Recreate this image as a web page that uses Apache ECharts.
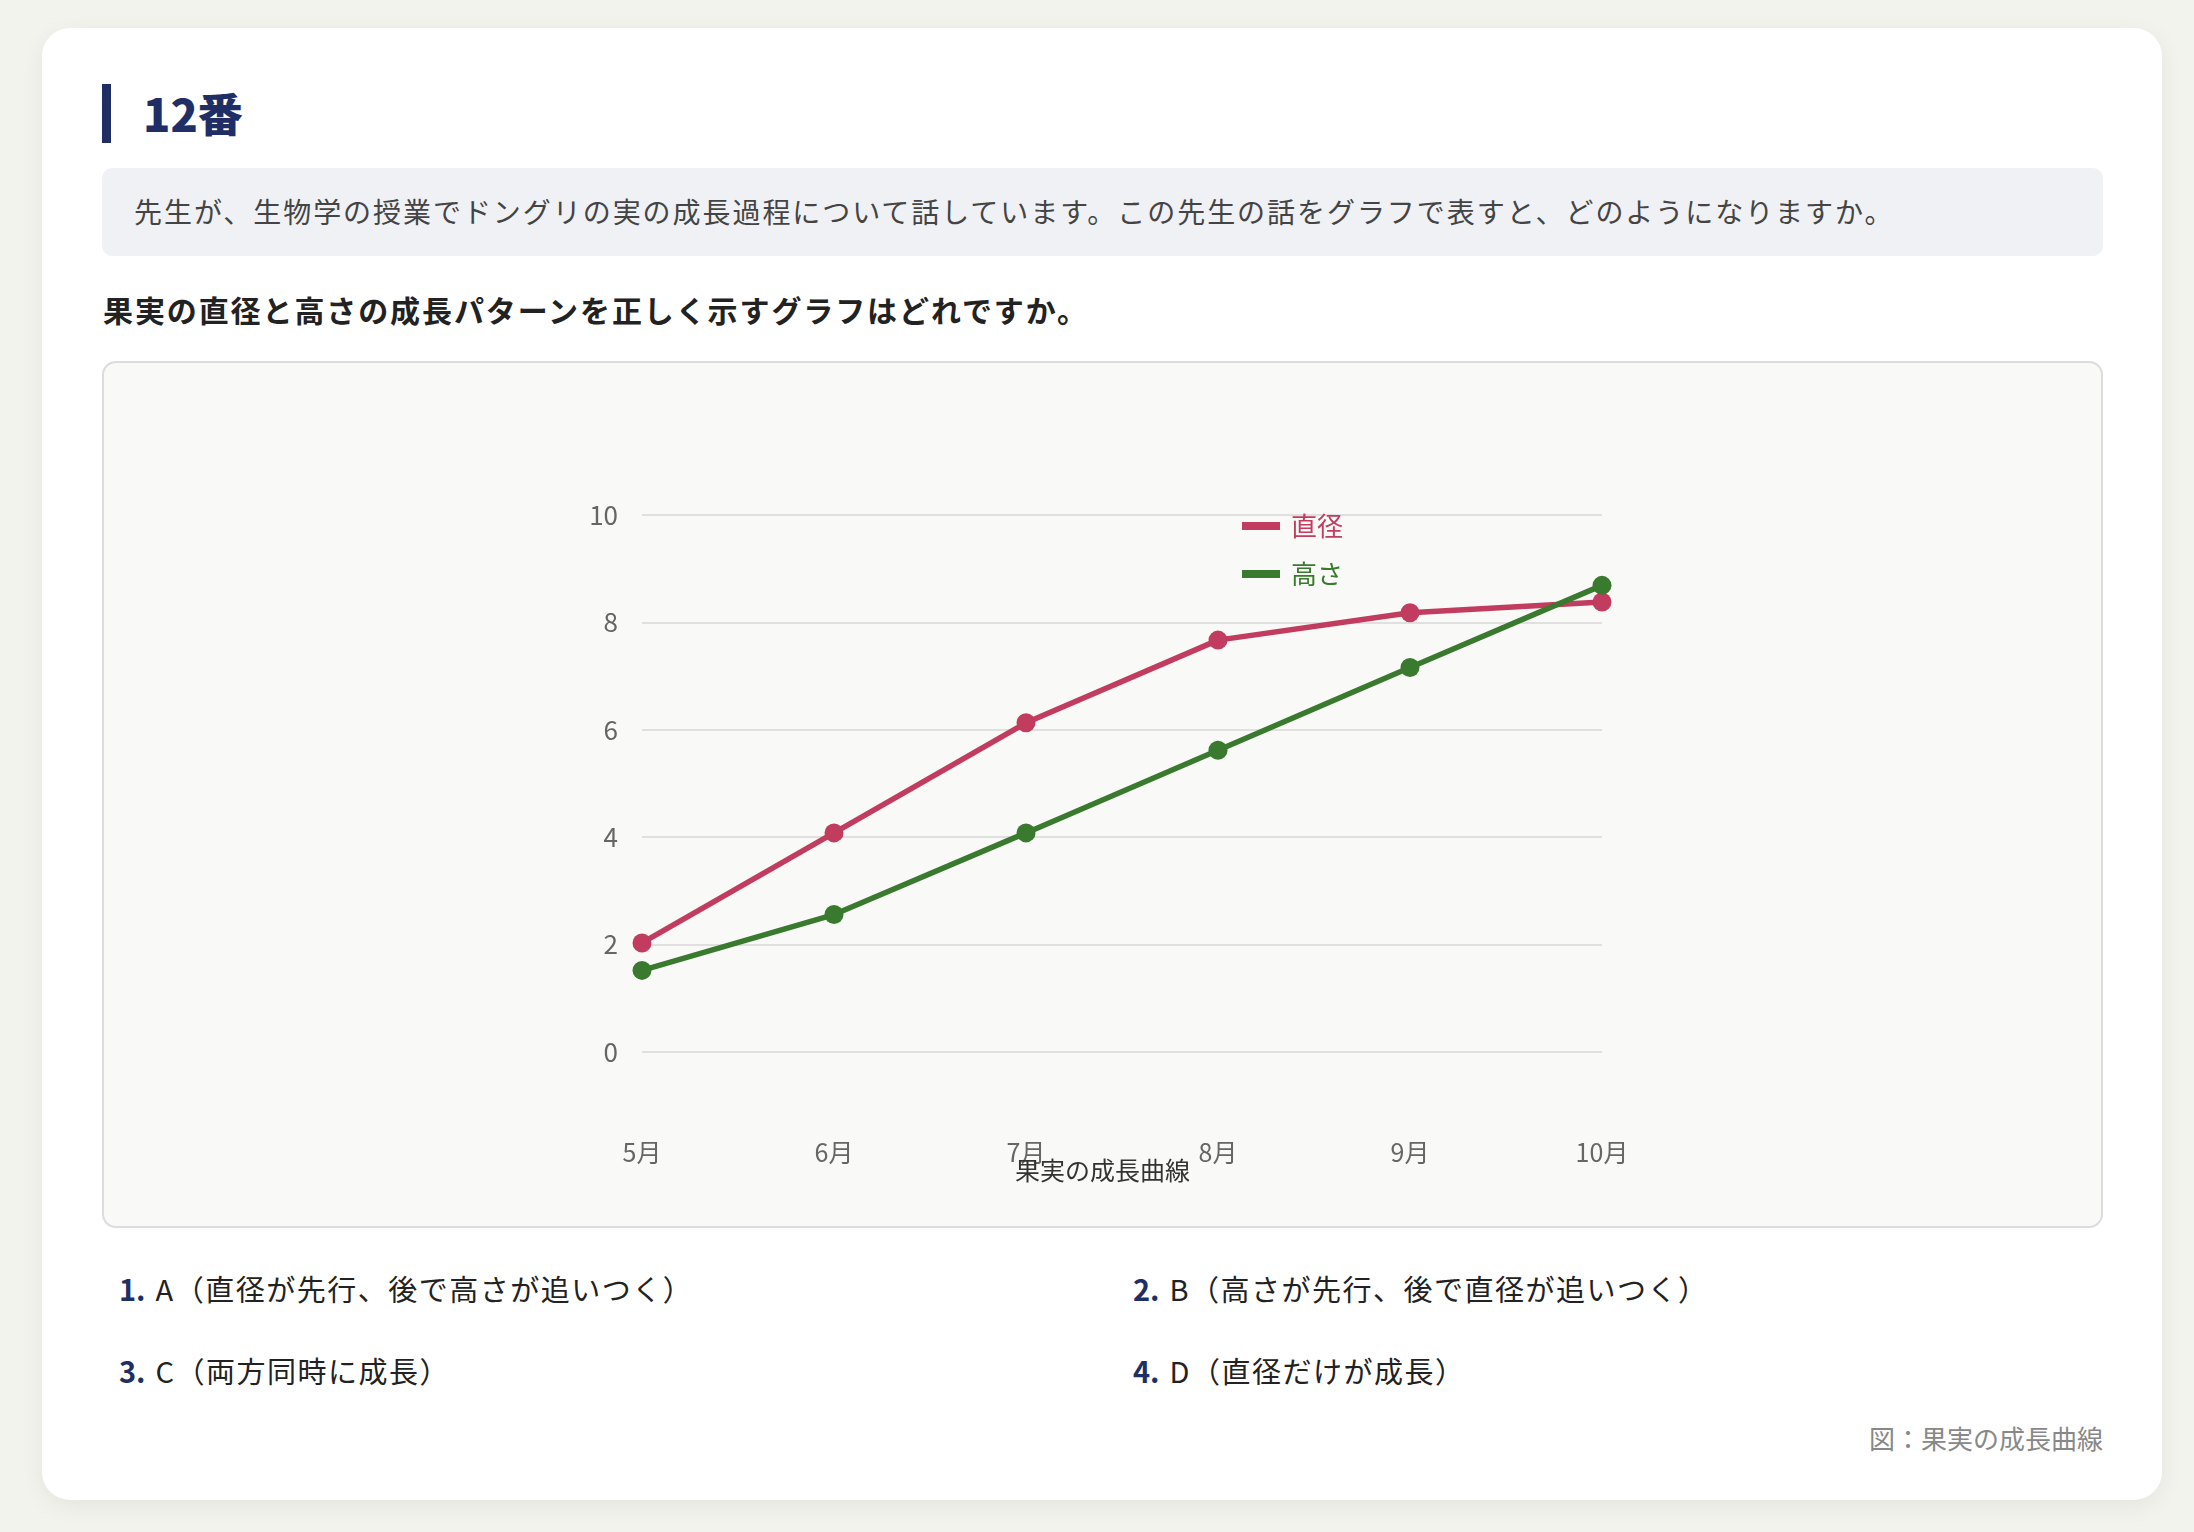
<!DOCTYPE html>
<html lang="ja">
<head>
<meta charset="utf-8">
<script src="https://cdn.jsdelivr.net/npm/echarts@6/dist/echarts.min.js"></script>
<style>
  html, body { margin: 0; padding: 0; }
  body { width: 2194px; height: 1532px; background: #f3f3ee; position: relative; overflow: hidden;
         font-family: "Noto Sans CJK JP", "Noto Sans", sans-serif; }
  .card { position: absolute; left: 42px; top: 28px; width: 2120px; height: 1472px; background: #fff;
          border-radius: 28px; box-shadow: 0 6px 24px rgba(0,0,0,0.06); }
  .bar { position: absolute; left: 102px; top: 84px; width: 9px; height: 59px; background: #1f2f66; }
  .title { position: absolute; left: 143px; top: 83px; height: 59px; line-height: 59px; font-size: 45px;
           font-weight: 800; color: #1f2f66; }
  .desc { position: absolute; left: 102px; top: 168px; width: 2001px; height: 88px; background: #f0f1f5;
          border-radius: 10px; box-sizing: border-box; padding-left: 32px; line-height: 86px;
          font-size: 28px; letter-spacing: 1.95px; color: #444; }
  .q { position: absolute; left: 103px; top: 287px; line-height: 44px; font-size: 30px; font-weight: 700;
       letter-spacing: 1.9px; color: #222; }
  .chartbox { position: absolute; left: 102px; top: 361px; width: 2001px; height: 867px; background: #f9f9f7;
              border: 2px solid #dcdcdc; border-radius: 14px; box-sizing: border-box; }
  #chart { position: absolute; left: 0; top: 0; width: 1997px; height: 863px; }
  .opt { position: absolute; font-size: 29px; color: #222; line-height: 40px; letter-spacing: 1.5px; }
  .opt b { color: #1f2f66; font-weight: 700; margin-right: 10px; letter-spacing: 0; }
  .cap { position: absolute; right: 91px; top: 1419px; font-size: 26px; color: #888; line-height: 38px; }
</style>
</head>
<body>
<div class="card"></div>
<div class="bar"></div>
<div class="title">12番</div>
<div class="desc">先生が、生物学の授業でドングリの実の成長過程について話しています。この先生の話をグラフで表すと、どのようになりますか。</div>
<div class="q">果実の直径と高さの成長パターンを正しく示すグラフはどれですか。</div>
<div class="chartbox"><div id="chart"></div></div>
<div class="opt" style="left:119px; top:1268px;"><b>1.</b>A（直径が先行、後で高さが追いつく）</div>
<div class="opt" style="left:1133px; top:1268px;"><b>2.</b>B（高さが先行、後で直径が追いつく）</div>
<div class="opt" style="left:119px; top:1350px;"><b>3.</b>C（両方同時に成長）</div>
<div class="opt" style="left:1133px; top:1350px;"><b>4.</b>D（直径だけが成長）</div>
<div class="cap">図：果実の成長曲線</div>
<script>
const months = ['5月', '6月', '7月', '8月', '9月', '10月'];
const diameterValues = [2.03, 4.08, 6.13, 7.67, 8.18, 8.38];
const heightValues = [1.52, 2.56, 4.08, 5.62, 7.16, 8.69];
const yTicks = { min: 0, max: 10, interval: 2 };
const seriesNames = ['直径', '高さ'];
const colorDiameter = '#c13c5f';
const colorHeight = '#3a7a2f';

const chart = echarts.init(document.getElementById('chart'), null, { renderer: 'canvas' });
const font = '"Noto Sans CJK JP", "Noto Sans", sans-serif';
chart.setOption({
  animation: false,
  textStyle: { fontFamily: font },
  title: {
    text: '果実の成長曲線', left: 'center', top: 790,
    textStyle: { fontSize: 25, fontWeight: 'normal', color: '#333', fontFamily: font }
  },
  legend: {
    orient: 'vertical', left: 1133, top: 145, itemGap: 22,
    icon: 'rect', itemWidth: 38, itemHeight: 8,
    textStyle: { fontSize: 26, fontFamily: font, padding: [0, 0, 0, 6] },
    data: [
      { name: seriesNames[0], textStyle: { color: colorDiameter } },
      { name: seriesNames[1], textStyle: { color: colorHeight } }
    ]
  },
  grid: { left: 538, right: 499, top: 152, bottom: 174, containLabel: false },
  xAxis: {
    type: 'category', data: months, boundaryGap: false,
    axisLine: { show: false }, axisTick: { show: false },
    axisLabel: { margin: 88, fontSize: 25, color: '#666', fontFamily: font }
  },
  yAxis: {
    type: 'value', min: yTicks.min, max: yTicks.max, interval: yTicks.interval,
    axisLine: { show: false }, axisTick: { show: false },
    axisLabel: { margin: 24, fontSize: 26, color: '#666', fontFamily: font },
    splitLine: { lineStyle: { color: '#e0e0e0', width: 2 } }
  },
  series: [
    {
      name: seriesNames[0], type: 'line', data: diameterValues,
      symbol: 'circle', symbolSize: 19,
      lineStyle: { width: 5.5, color: colorDiameter }, itemStyle: { color: colorDiameter }
    },
    {
      name: seriesNames[1], type: 'line', data: heightValues,
      symbol: 'circle', symbolSize: 19,
      lineStyle: { width: 5.5, color: colorHeight }, itemStyle: { color: colorHeight }
    }
  ]
});
</script>
</body>
</html>
